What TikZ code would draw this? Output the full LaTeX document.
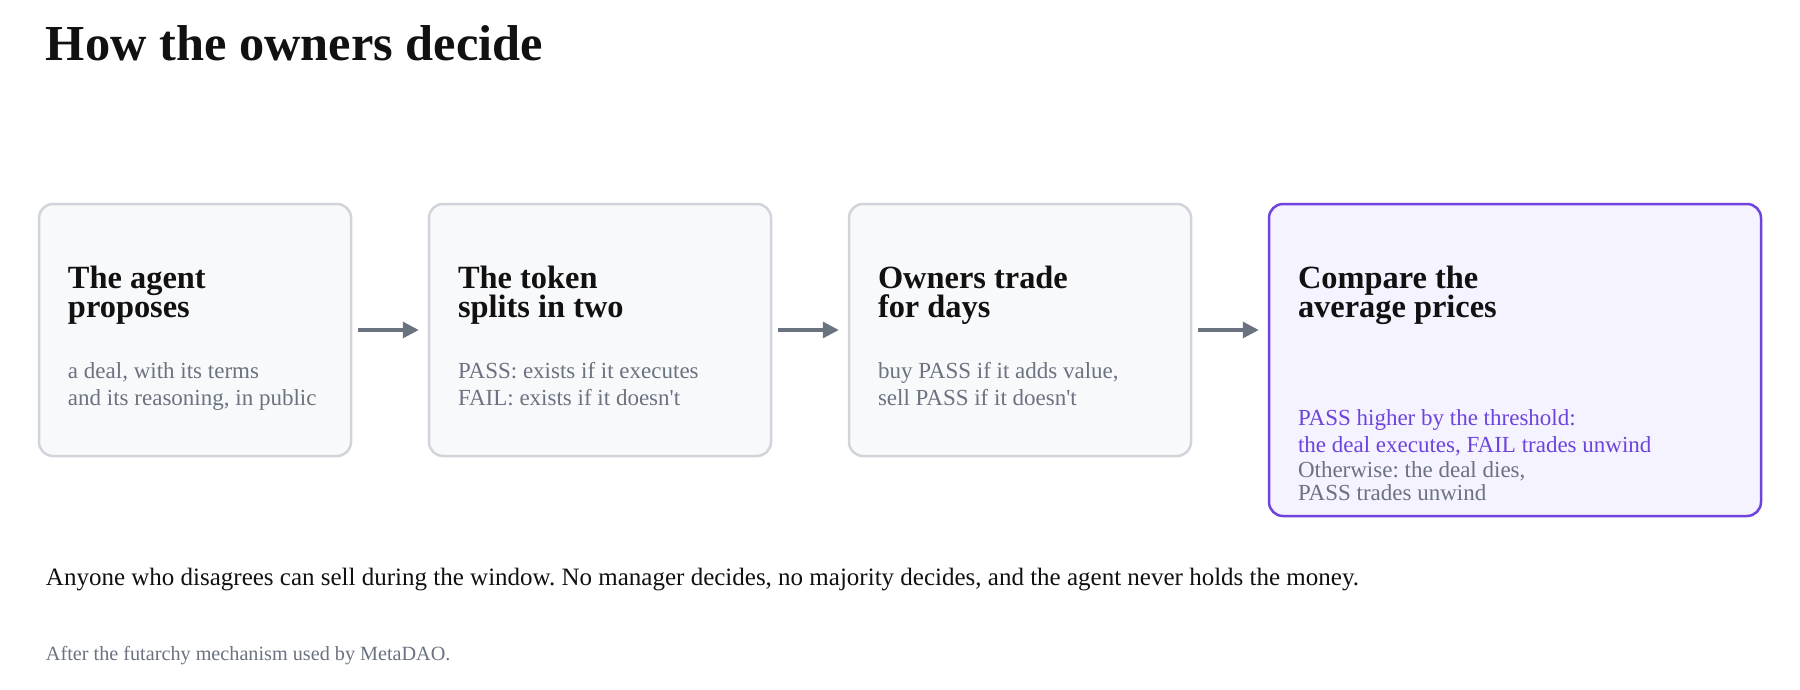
\documentclass[tikz,border=0pt]{standalone}
\usepackage{fontspec}
\setmainfont{Liberation Serif}[Ligatures=TeXOff]
\usetikzlibrary{arrows.meta}
\frenchspacing
\lineskiplimit=-30pt\relax
\definecolor{ink}{HTML}{111111}
\definecolor{muted}{HTML}{6B7280}
\definecolor{edge}{HTML}{D1D5DB}
\definecolor{boxfill}{HTML}{F8F9FB}
\definecolor{purp}{HTML}{6D44DC}
\definecolor{purpfill}{HTML}{F5F3FF}
\begin{document}
\begin{tikzpicture}[x=0.5pt,y=-0.5pt,
  stepbox/.style={draw=edge, fill=boxfill, line width=1.25pt, rounded corners=7pt, inner sep=0pt},
  finalbox/.style={stepbox, draw=purp, fill=purpfill},
  txt/.style={anchor=base west, inner sep=0pt, outer sep=0pt},
  head/.style={txt, align=left, text=ink, font=\fontsize{16.2}{14.5}\selectfont\bfseries},
  body/.style={txt, align=left, text=muted, font=\fontsize{11.5}{13.5}\selectfont},
  pbody/.style={body, text=purp},
  flow/.style={draw=muted, line width=1.6pt, -{Triangle[length=8pt,width=8pt]}, shorten <=3pt, shorten >=4.5pt}
]
\useasboundingbox (0,0) rectangle (1800,690);
\fill[white] (0,0) rectangle (1800,690);

\node[txt, text=ink, font=\fontsize{25.2}{30}\selectfont\bfseries] (title) at (46,61) {How the owners decide};

\node[stepbox, minimum width=156pt, minimum height=126pt] (b1) at (195,330) {};
\node[stepbox, minimum width=171pt, minimum height=126pt] (b2) at (600,330) {};
\node[stepbox, minimum width=171pt, minimum height=126pt] (b3) at (1020,330) {};
\node[finalbox, minimum width=246pt, minimum height=156pt] (b4) at (1515,360) {};

\node[head] (h1) at (68,317) {The agent\\proposes};
\node[body] (t1) at (68,405) {a deal, with its terms\\and its reasoning, in public};

\node[head] (h2) at (458,317) {The token\\splits in two};
\node[body] (t2) at (458,405) {PASS: exists if it executes\\FAIL: exists if it doesn't};

\node[head] (h3) at (878,317) {Owners trade\\for days};
\node[body] (t3) at (878,405) {buy PASS if it adds value,\\sell PASS if it doesn't};

\node[head] (h4) at (1298,317) {Compare the\\average prices};
\node[pbody] (t4a) at (1298,452) {PASS higher by the threshold:\\the deal executes, FAIL trades unwind};
\node[body, font=\fontsize{11.5}{11.5}\selectfont] (t4c) at (1298,500) {Otherwise: the deal dies,\\PASS trades unwind};

\draw[flow] (b1.east) -- (b2.west);
\draw[flow] (b2.east) -- (b3.west);
\draw[flow] (b3.east) -- (b3.east -| b4.west);

\node[txt, text=ink, font=\fontsize{12.5}{15}\selectfont] (foot) at (46,585) {Anyone who disagrees can sell during the window. No manager decides, no majority decides, and the agent never holds the money.};
\node[txt, text=muted, font=\fontsize{10.1}{12}\selectfont] (note) at (46,660) {After the futarchy mechanism used by MetaDAO.};
\end{tikzpicture}
\end{document}
